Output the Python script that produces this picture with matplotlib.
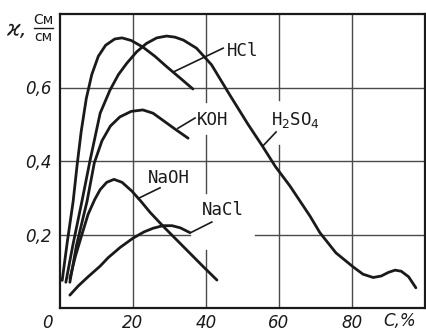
import matplotlib
matplotlib.use("Agg")
import matplotlib.pyplot as plt
import matplotlib.transforms as mtransforms

# conductivity of electrolyte solutions vs concentration
hcl_c = [0.6, 2.0, 3.6, 4.7, 5.8, 7.2, 8.7, 10.5, 12.5, 15, 17, 19.5, 22.7, 26, 29.3, 33, 36.4]
hcl_k = [0.075, 0.18, 0.29, 0.39, 0.48, 0.57, 0.635, 0.685, 0.715, 0.732, 0.735, 0.728, 0.71, 0.685, 0.656, 0.625, 0.596]

h2so4_c = [1.6, 3.5, 6.0, 8.2, 11, 13.7, 16, 18.3, 21, 23.7, 26.5, 29.2, 31.5, 33.8, 37.4, 41.5, 46.5,
           51.5, 55.5, 59, 63, 68.5, 71.2, 75.6, 80.3, 83, 85.8, 88, 90, 91.8, 93.5, 95.5, 97.5]
h2so4_k = [0.07, 0.17, 0.29, 0.40, 0.53, 0.593, 0.635, 0.666, 0.697, 0.72, 0.735, 0.74, 0.737, 0.729, 0.707, 0.662, 0.58,
           0.5, 0.44, 0.385, 0.332, 0.25, 0.205, 0.15, 0.112, 0.092, 0.083, 0.087, 0.097, 0.103, 0.1, 0.085, 0.055]

koh_c = [2.7, 4.5, 7.4, 9.4, 11.5, 13.8, 16.4, 19.5, 22.7, 25.5, 28.3, 31.5, 35.1]
koh_k = [0.07, 0.17, 0.29, 0.395, 0.455, 0.495, 0.52, 0.535, 0.539, 0.53, 0.51, 0.487, 0.462]

naoh_c = [2.7, 4.2, 6, 7.7, 9.5, 11, 12.8, 14.8, 17, 19.7, 22.2, 24.7, 28.4, 32, 35.6, 39.3, 43]
naoh_k = [0.08, 0.14, 0.2, 0.255, 0.295, 0.322, 0.342, 0.35, 0.342, 0.318, 0.29, 0.26, 0.221, 0.185, 0.149, 0.112, 0.076]

nacl_c = [2.7, 5, 7.7, 11, 13.2, 16.5, 20, 23, 25.5, 28.2, 30.7, 33, 35.6]
nacl_k = [0.035, 0.06, 0.085, 0.114, 0.137, 0.165, 0.19, 0.207, 0.217, 0.224, 0.224, 0.218, 0.205]

x_ticks = [0, 20, 40, 60, 80]
x_labels = ["0", "20", "40", "60", "80"]
y_ticks = [0.2, 0.4, 0.6]
y_labels = ["0,2", "0,4", "0,6"]

ink = "#1a1a1a"
grid_col = "#4a4a4a"

fig = plt.figure(figsize=(4.26, 3.33), dpi=100)
ax = fig.add_axes([60 / 426, 25 / 333, 365 / 426, 294 / 333])
ax.set_xlim(0, 100)
ax.set_ylim(0, 0.8)

# grid drawn by hand, broken where the labels sit
vgrid = [(20, [(0, 0.8)]),
         (40, [(0, 0.158), (0.313, 0.47), (0.56, 0.8)]),
         (60, [(0, 0.444), (0.566, 0.8)]),
         (80, [(0, 0.8)])]
hgrid = [(0.2, [(0, 35.6), (53.4, 100)]),
         (0.4, [(0, 100)]),
         (0.6, [(0, 100)])]
for x, parts in vgrid:
    for y0, y1 in parts:
        ax.plot([x, x], [y0, y1], color=grid_col, lw=1.0, zorder=1)
for y, parts in hgrid:
    for x0, x1 in parts:
        ax.plot([x0, x1], [y, y], color=grid_col, lw=1.0, zorder=1)

# CURVES
for c, k in [(hcl_c, hcl_k), (h2so4_c, h2so4_k), (koh_c, koh_k), (naoh_c, naoh_k), (nacl_c, nacl_k)]:
    ax.plot(c, k, color=ink, lw=2.0, solid_capstyle="round", solid_joinstyle="round", zorder=3)

# LABELS WITH LEADER LINES
lab_font = dict(family="DejaVu Sans Mono", fontsize=12.5, color=ink, va="center", ha="left")
leaders = [("HCl", (45.6, 0.70), (44.7, 0.707), (31.0, 0.642)),
           ("KOH", (37.5, 0.512), (37.0, 0.517), (32.3, 0.489)),
           ("H$_2$SO$_4$", (57.8, 0.512), (59.2, 0.479), (55.5, 0.44)),
           ("NaOH", (24.1, 0.354), (27.4, 0.327), (21.4, 0.298)),
           ("NaCl", (38.9, 0.267), (41.6, 0.234), (36.0, 0.206))]
for text, pos, p0, p1 in leaders:
    ax.text(pos[0], pos[1], text, **lab_font)
    ax.plot([p0[0], p1[0]], [p0[1], p1[1]], color=ink, lw=1.2, zorder=3)

# AXES
for side in ["left", "bottom", "top", "right"]:
    ax.spines[side].set_linewidth(1.6)
    ax.spines[side].set_color(ink)
ax.set_xticks(x_ticks)
ax.set_xticklabels(x_labels)
ax.set_yticks(y_ticks)
ax.set_yticklabels(y_labels)
ax.tick_params(length=0, labelsize=12, labelcolor=ink)
ax.tick_params(axis="x", pad=4)
ax.tick_params(axis="y", pad=6)
for lbl in ax.get_xticklabels() + ax.get_yticklabels():
    lbl.set_fontstyle("italic")
# move the zero a bit to the left of the corner
zero = ax.get_xticklabels()[0]
zero.set_transform(zero.get_transform() + mtransforms.ScaledTranslation(-13 / 100, 0, fig.dpi_scale_trans))

ax.text(93.0, -0.036, "C,%", fontsize=12, fontstyle="italic", color=ink, ha="center", va="center")

# y axis name: kappa, S/cm
fig.text(16 / 426, 1 - 30 / 333, "ϰ,", fontsize=15, fontstyle="italic", color=ink, ha="center", va="center")
fig.text(43 / 426, 1 - 20 / 333, "См", fontsize=10, color=ink, ha="center", va="center")
fig.text(43 / 426, 1 - 37 / 333, "см", fontsize=10, color=ink, ha="center", va="center")
fig.add_artist(plt.Line2D([34 / 426, 53 / 426], [1 - 28 / 333, 1 - 28 / 333], color=ink, lw=1.0))

fig.savefig("out.png", dpi=100)
